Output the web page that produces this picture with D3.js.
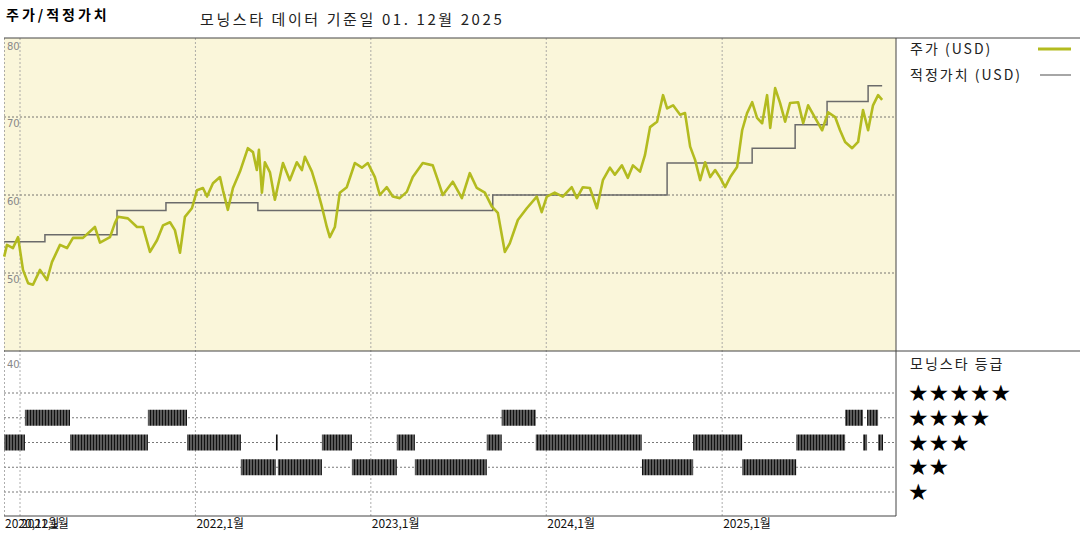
<!DOCTYPE html>
<html>
<head>
<meta charset="utf-8">
<script src="https://cdn.jsdelivr.net/npm/d3@7"></script>
<style>
  body { margin: 0; background: #fff; }
  svg { display: block; font-family: "Noto Sans CJK KR", "DejaVu Sans", sans-serif; }
</style>
</head>
<body>
<svg id="chart" width="1080" height="540"></svg>
<script>
// decimal years
const priceYears = [2020.91, 2020.926, 2020.960, 2020.989, 2021.017, 2021.046, 2021.074, 2021.114, 2021.154, 2021.182,
  2021.228, 2021.268, 2021.302, 2021.359, 2021.427, 2021.456, 2021.513, 2021.541, 2021.558, 2021.615,
  2021.667, 2021.701, 2021.741, 2021.781, 2021.815, 2021.855, 2021.883, 2021.912, 2021.940, 2021.980,
  2022.009, 2022.043, 2022.066, 2022.100, 2022.140, 2022.157, 2022.185, 2022.214, 2022.254, 2022.299,
  2022.328, 2022.350, 2022.362, 2022.379, 2022.396, 2022.425, 2022.453, 2022.499, 2022.538, 2022.578,
  2022.607, 2022.624, 2022.664, 2022.692, 2022.721, 2022.749, 2022.766, 2022.795, 2022.823, 2022.863,
  2022.909, 2022.949, 2022.983, 2023.023, 2023.051, 2023.091, 2023.125, 2023.165, 2023.205, 2023.239,
  2023.296, 2023.353, 2023.382, 2023.410, 2023.467, 2023.519, 2023.564, 2023.604, 2023.650, 2023.690,
  2023.724, 2023.764, 2023.792, 2023.838, 2023.889, 2023.946, 2023.974, 2024.003, 2024.048, 2024.094,
  2024.145, 2024.174, 2024.208, 2024.248, 2024.288, 2024.322, 2024.362, 2024.390, 2024.430, 2024.464,
  2024.493, 2024.533, 2024.561, 2024.590, 2024.630, 2024.664, 2024.687, 2024.721, 2024.761, 2024.789,
  2024.818, 2024.846, 2024.875, 2024.903, 2024.932, 2024.960, 2024.989, 2025.017, 2025.046, 2025.085,
  2025.114, 2025.142, 2025.171, 2025.199, 2025.228, 2025.256, 2025.274, 2025.302, 2025.330, 2025.359,
  2025.387, 2025.433, 2025.462, 2025.490, 2025.530, 2025.570, 2025.604, 2025.644, 2025.672, 2025.701,
  2025.741, 2025.775, 2025.803, 2025.832, 2025.860, 2025.889, 2025.912];
const priceValues = [52.1, 53.6, 53.2, 54.6, 50.4, 48.7, 48.5, 50.4, 49.1, 51.4,
  53.6, 53.2, 54.5, 54.5, 55.9, 53.9, 54.6, 56.4, 57.2, 57.0,
  55.9, 55.9, 52.7, 54.2, 56.1, 56.5, 55.5, 52.6, 57.2, 58.3,
  60.6, 60.9, 59.8, 61.5, 62.3, 60.6, 58.1, 60.9, 63.0, 66.0,
  65.5, 63.2, 65.8, 60.3, 64.2, 62.9, 59.4, 64.1, 61.9, 64.2,
  63.2, 64.9, 63.0, 60.9, 58.5, 55.9, 54.6, 55.9, 60.3, 61.0,
  64.1, 63.5, 64.1, 62.3, 60.0, 61.0, 59.8, 59.6, 60.4, 62.3,
  64.1, 63.8, 61.9, 60.0, 61.7, 59.6, 62.8, 60.9, 60.3, 58.5,
  57.7, 52.7, 53.8, 56.8, 58.3, 59.8, 57.8, 59.8, 60.3, 59.8,
  61.0, 59.6, 61.0, 60.9, 58.3, 61.9, 63.5, 62.6, 63.8, 62.2,
  63.8, 63.0, 65.1, 68.7, 69.4, 72.8, 71.1, 71.5, 70.3, 70.5,
  66.2, 64.5, 61.9, 64.2, 62.3, 63.2, 62.2, 61.0, 62.3, 63.6,
  68.3, 70.5, 71.9, 69.9, 69.2, 72.8, 68.6, 73.7, 71.8, 69.4,
  71.8, 71.9, 69.2, 71.5, 69.9, 68.3, 70.6, 70.0, 68.3, 66.8,
  66.0, 66.8, 70.9, 68.3, 71.5, 72.8, 72.2];

const fairYears = [2020.91, 2021.142, 2021.553, 2021.832, 2022.356, 2023.695, 2024.687, 2025.171, 2025.416, 2025.598, 2025.832, 2025.912];
const fairValues = [54.0, 54.9, 58.0, 59.0, 58.0, 60.0, 64.1, 66.0, 69.0, 72.0, 74.0, 74.0];

const ratingYears = [2020.91, 2021.028, 2021.285, 2021.729, 2021.952, 2022.259, 2022.459, 2022.470, 2022.721, 2022.892,
  2023.148, 2023.251, 2023.661, 2023.746, 2023.940, 2024.544, 2024.835, 2025.114, 2025.422, 2025.701,
  2025.803, 2025.826, 2025.889, 2025.917];
const ratingStars = [3, 4, 3, 4, 3, 2, 3, 2, 3, 2, 3, 2, 3, 4, 3, 2, 3, 2, 3, 4, 3, 4, 3];

const yTicks = [80, 70, 60, 50];
const xTickYears = [2020.917, 2021, 2022, 2023, 2024, 2025];
const xTickLabels = ['2020,12월', '2021,1월', '2022,1월', '2023,1월', '2024,1월', '2025,1월'];

const OLIVE = '#b3bb1f';
const GRAY = '#6b6b6b';

const toDate = (yr) => {
  const y = Math.floor(yr);
  const start = new Date(y, 0, 1), end = new Date(y + 1, 0, 1);
  return new Date(+start + (yr - y) * (end - start));
};

const L = 4, R = 896, TOP = 38, MID = 351, BOT = 516;
const svg = d3.select('#chart');

const x = d3.scaleTime()
  .domain([toDate(2020.909), toDate(2025.991)])
  .range([L, R]);
const y = d3.scaleLinear().domain([40, 80]).range([MID, TOP + 1]);
const yr = d3.scalePoint().domain([5, 4, 3, 2, 1]).range([393, 492]);

// backgrounds
svg.append('rect').attr('x', L).attr('y', TOP).attr('width', R - L).attr('height', MID - TOP).attr('fill', '#faf6da');

const grid = svg.append('g').attr('stroke', '#555').attr('stroke-dasharray', '2,2').attr('stroke-width', 0.8);
[70, 60, 50].forEach(v => grid.append('line').attr('x1', L).attr('x2', R).attr('y1', y(v)).attr('y2', y(v)));
yr.domain().forEach(v => grid.append('line').attr('x1', L).attr('x2', R).attr('y1', yr(v)).attr('y2', yr(v)));
const vgrid = svg.append('g').attr('stroke', '#999').attr('stroke-dasharray', '2,2').attr('stroke-width', 0.8);
xTickYears.slice(1).forEach(t => vgrid.append('line').attr('x1', x(toDate(t))).attr('x2', x(toDate(t))).attr('y1', TOP).attr('y2', BOT));
vgrid.append('line').attr('x1', L + 0.5).attr('x2', L + 0.5).attr('y1', TOP).attr('y2', BOT);

// y labels
const yl = svg.append('g').attr('fill', '#888').attr('font-size', 10).attr('font-family', 'DejaVu Sans');
yTicks.forEach(v => yl.append('text').attr('x', L + 3).attr('y', y(v) + (v === 80 ? 11 : 10)).text(v));
yl.append('text').attr('x', L + 3).attr('y', MID + 17).text(40);

// fair value
const pts = fairYears.map((t, i) => [toDate(t), fairValues[i]]);
svg.append('path').datum(pts)
  .attr('d', d3.line().curve(d3.curveStepAfter).x(d => x(d[0])).y(d => y(d[1])))
  .attr('fill', 'none').attr('stroke', GRAY).attr('stroke-width', 1.5);

// price
const ppts = priceYears.map((t, i) => [toDate(t), priceValues[i]]);
svg.append('path').datum(ppts)
  .attr('d', d3.line().x(d => x(d[0])).y(d => y(d[1])))
  .attr('fill', 'none').attr('stroke', OLIVE).attr('stroke-width', 2.6).attr('stroke-linejoin', 'round');

// ratings hatched bars
const defs = svg.append('defs');
const pat = defs.append('pattern').attr('id', 'hatch').attr('patternUnits', 'userSpaceOnUse').attr('width', 3).attr('height', 20);
pat.append('rect').attr('width', 3).attr('height', 20).attr('fill', '#5a5a5a');
pat.append('rect').attr('width', 1).attr('height', 20).attr('fill', '#111');
svg.append('g').selectAll('rect')
  .data(ratingStars)
  .join('rect')
  .attr('x', (d, i) => x(toDate(ratingYears[i])))
  .attr('width', (d, i) => x(toDate(ratingYears[i + 1])) - x(toDate(ratingYears[i])))
  .attr('y', d => yr(d) - 8)
  .attr('height', 16)
  .attr('fill', 'url(#hatch)');

// frame
const fr = svg.append('g').attr('stroke', '#444').attr('stroke-width', 1);
fr.append('line').attr('x1', L).attr('x2', 1080).attr('y1', TOP).attr('y2', TOP);
fr.append('line').attr('x1', L).attr('x2', 1080).attr('y1', MID).attr('y2', MID);
fr.append('line').attr('x1', L).attr('x2', R).attr('y1', BOT).attr('y2', BOT);
fr.append('line').attr('x1', R).attr('x2', R).attr('y1', TOP).attr('y2', BOT);

// x labels
const xl = svg.append('g').attr('font-size', 12).attr('fill', '#111');
xTickYears.forEach((t, i) => xl.append('text').attr('x', i === 0 ? 5 : x(toDate(t)) + 1).attr('y', 528).text(xTickLabels[i]));

// titles
svg.append('text').attr('x', 6).attr('y', 20).attr('font-size', 14).attr('font-weight', 'bold')
  .attr('letter-spacing', 3).text('주가/적정가치');
svg.append('text').attr('x', 200).attr('y', 25).attr('font-size', 15).attr('fill', '#222')
  .attr('letter-spacing', 2.6).text('모닝스타 데이터 기준일 01. 12월 2025');

// legend
const lg = svg.append('g').attr('font-size', 14).attr('fill', '#222').attr('letter-spacing', 2);
lg.append('text').attr('x', 910).attr('y', 54).text('주가 (USD)');
lg.append('line').attr('x1', 1038).attr('x2', 1071).attr('y1', 49).attr('y2', 49).attr('stroke', OLIVE).attr('stroke-width', 3);
lg.append('text').attr('x', 910).attr('y', 80).text('적정가치 (USD)');
lg.append('line').attr('x1', 1040).attr('x2', 1071).attr('y1', 75).attr('y2', 75).attr('stroke', GRAY).attr('stroke-width', 1.2);
lg.append('text').attr('x', 910).attr('y', 369).text('모닝스타 등급');
yr.domain().forEach(v => lg.append('text').attr('x', 908).attr('y', yr(v) + 8)
  .attr('font-size', 23).attr('letter-spacing', 0).attr('font-family', 'DejaVu Sans').attr('fill', '#000').text('★'.repeat(v)));
</script>
</body>
</html>
